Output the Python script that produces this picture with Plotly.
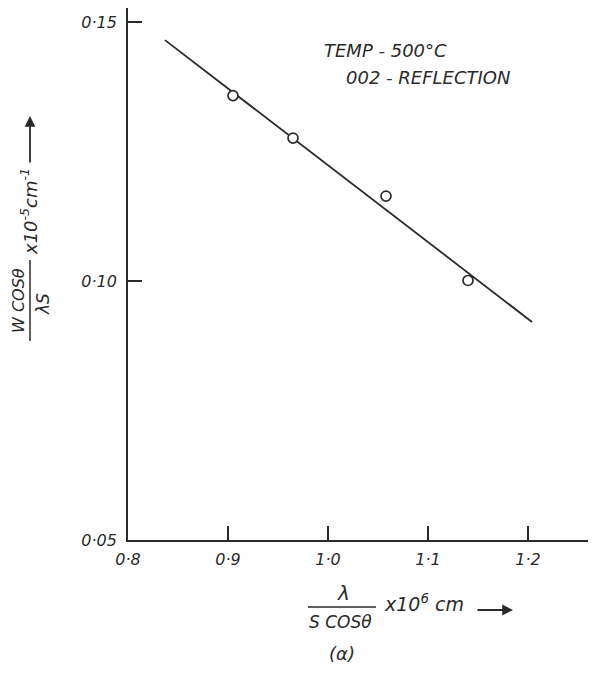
import plotly.graph_objects as go

# ---- data ----
x_points = [0.905, 0.965, 1.058, 1.140]
y_points = [0.1358, 0.1276, 0.1164, 0.1001]
fit_x = [0.837, 1.204]
fit_y = [0.1465, 0.0921]
x_tickvals = [0.8, 0.9, 1.0, 1.1, 1.2]
x_ticktext = ["0·8", "0·9", "1·0", "1·1", "1·2"]
y_tickvals = [0.05, 0.10, 0.15]
y_ticktext = ["0·05", "0·10", "0·15"]
note_lines = ["TEMP - 500°C", "002 - REFLECTION"]

# page body has an 8px margin; figure is sized so that it fills the window
OFF = 8
W, H = 596 - OFF, 678 - OFF
L, R, T, B = 120, 0, 0, 138
PW, PH = W - L - R, H - T - B
INK = "#2a2a2a"
FONT = "DejaVu Sans"


def px(x):  # x in window pixels -> paper
    return (x - OFF - L) / PW


def py(y):  # y in window pixels -> paper
    return (H - B - (y - OFF)) / PH


fig = go.Figure()
fig.add_trace(go.Scatter(x=fit_x, y=fit_y, mode="lines",
                         line=dict(color=INK, width=1.8), hoverinfo="skip"))
fig.add_trace(go.Scatter(x=x_points, y=y_points, mode="markers",
                         marker=dict(symbol="circle", size=10, color="white",
                                     line=dict(color=INK, width=1.7))))

axis_font = dict(family=FONT, size=16, color=INK, style="italic")
fig.update_xaxes(range=[0.8, 0.8 + PW / 1000.0], tickvals=x_tickvals,
                 ticktext=x_ticktext,
                 showline=True, linecolor=INK, linewidth=1.8, ticks="inside",
                 ticklen=14, tickwidth=1.6, tickcolor=INK, showgrid=False,
                 zeroline=False, tickfont=axis_font, ticklabelstandoff=4)
fig.update_yaxes(range=[0.05, 0.05 + PH / 5180.0], tickvals=y_tickvals,
                 ticktext=y_ticktext,
                 showline=True, linecolor=INK, linewidth=1.8, ticks="inside",
                 ticklen=14, tickwidth=1.6, tickcolor=INK, showgrid=False,
                 zeroline=False, tickfont=axis_font, ticklabelstandoff=6)

ann = []


def text(s, x, y, size=16, angle=0, xanchor="center"):
    ann.append(dict(text=s, x=px(x), y=py(y), xref="paper", yref="paper",
                    showarrow=False, textangle=angle, xanchor=xanchor,
                    yanchor="middle",
                    font=dict(family=FONT, size=size, color=INK, style="italic")))


def arrow(x0, y0, x1, y1):
    ann.append(dict(x=px(x1), y=py(y1), ax=x0 - x1, ay=y0 - y1, xref="paper",
                    yref="paper", axref="pixel", ayref="pixel", text="",
                    showarrow=True, arrowhead=2, arrowsize=1.2, arrowwidth=1.8,
                    arrowcolor=INK))


# notes
text(note_lines[0], 322, 50, size=18, xanchor="left")
text(note_lines[1], 344, 77, size=18, xanchor="left")

# y-axis label (rotated fraction)
text("W COSθ", 18, 301, size=16, angle=-90)
text("λS", 43, 304, size=17, angle=-90)
text("x10<sup>-5</sup>cm<sup>-1</sup>", 29, 212, size=18, angle=-90)
arrow(30, 164, 30, 116)

# x-axis label (fraction)
text("λ", 343, 593, size=20)
text("S COSθ", 340, 622, size=17)
text("x10<sup>6</sup> cm", 382, 603, size=19, xanchor="left")
arrow(476, 610, 513, 610)
text("(α)", 342, 653, size=18)

shapes = [
    dict(type="line", xref="paper", yref="paper", x0=px(30), x1=px(30),
         y0=py(260), y1=py(341), line=dict(color=INK, width=1.5)),
    dict(type="line", xref="paper", yref="paper", x0=px(308), x1=px(376),
         y0=py(607), y1=py(607), line=dict(color=INK, width=1.5)),
]

fig.update_layout(width=W, height=H, margin=dict(l=L, r=R, t=T, b=B),
                  plot_bgcolor="white", paper_bgcolor="white",
                  showlegend=False, annotations=ann, shapes=shapes)

fig.write_html("out.html")
